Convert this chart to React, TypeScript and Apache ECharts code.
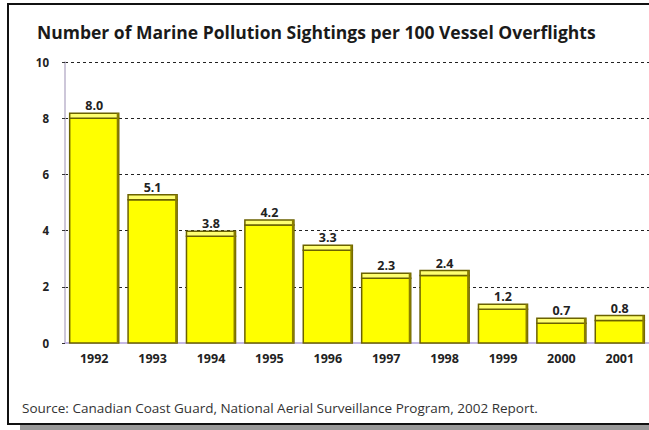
import React, { useEffect, useRef } from "react";
import * as echarts from "echarts";

const years = ["1992", "1993", "1994", "1995", "1996", "1997", "1998", "1999", "2000", "2001"];
const sightings = [8.0, 5.1, 3.8, 4.2, 3.3, 2.3, 2.4, 1.2, 0.7, 0.8];
const yTicks = [0, 2, 4, 6, 8, 10];

const titleText = "Number of Marine Pollution Sightings per 100 Vessel Overflights";
const sourceText = "Source: Canadian Coast Guard, National Aerial Surveillance Program, 2002 Report.";

export default function App() {
  const ref = useRef<HTMLDivElement>(null);
  useEffect(() => {
    if (!ref.current) return;
    const chart = echarts.init(ref.current, null, { renderer: "svg" });
    const option: any = {
      animation: false,
      backgroundColor: "#ffffff",
      title: {
        text: titleText,
        left: 32,
        top: 18,
        textStyle: { fontFamily: "Open Sans", fontWeight: "bold", fontSize: 17.5, color: "#1a1a1a" },
      },
      grid: { left: 65, right: 0, top: 62, bottom: 87, containLabel: false },
      xAxis: {
        type: "category",
        data: years,
        axisLine: { show: true, lineStyle: { color: "#c4b8e4", width: 2 } },
        axisTick: { show: false },
        axisLabel: {
          fontFamily: "Open Sans",
          fontWeight: "bold",
          fontSize: 12.5,
          color: "#222",
          margin: 9,
        },
      },
      yAxis: {
        type: "value",
        min: 0,
        max: 10,
        interval: 2,
        axisLine: { show: true, lineStyle: { color: "#bcb4cc", width: 1.5 } },
        axisTick: { show: true, length: 3, lineStyle: { color: "#333" } },
        axisLabel: {
          fontFamily: "Open Sans",
          fontWeight: "bold",
          fontSize: 11.5,
          color: "#222",
          margin: 16,
          formatter: (v: number) => (yTicks.includes(v) ? String(v) : ""),
        },
        splitLine: { show: true, lineStyle: { color: "#222", type: [3, 3], width: 1 } },
      },
      series: [
        {
          type: "custom",
          z: 5,
          data: sightings.map((v, i) => [i, v]),
          renderItem: (params: any, api: any) => {
            const i = api.value(0);
            const v = api.value(1);
            const top = api.coord([i, v]);
            const base = api.coord([i, 0]);
            const band = api.size([1, 0])[0];
            const w = band * 0.84;
            const x = top[0] - w / 2;
            const h = base[1] - top[1];
            const faceH = 5;
            return {
              type: "group",
              children: [
                {
                  type: "rect",
                  shape: { x, y: top[1], width: w, height: h },
                  style: { fill: "#ffff00", stroke: "#6b6200", lineWidth: 1.5 },
                },
                {
                  type: "rect",
                  shape: { x, y: top[1] - faceH, width: w, height: faceH },
                  style: { fill: "#ffff70", stroke: "#6b6200", lineWidth: 1.5 },
                },
                {
                  type: "line",
                  shape: { x1: x + w - 1, y1: top[1] - faceH, x2: x + w - 1, y2: base[1] },
                  style: { stroke: "#8a7e00", lineWidth: 2 },
                },
                {
                  type: "text",
                  style: {
                    text: v.toFixed(1),
                    x: top[0],
                    y: top[1] - faceH - 1,
                    align: "center",
                    verticalAlign: "bottom",
                    fontFamily: "Open Sans",
                    fontWeight: "bold",
                    fontSize: 12.5,
                    fill: "#222",
                  },
                },
              ],
            };
          },
        },
      ],
      graphic: [
        {
          type: "rect",
          shape: { x: 20, y: 425, width: 640, height: 5 },
          style: { fill: "#999999" },
          silent: true,
        },
        {
          type: "polyline",
          shape: { points: [[660, 4], [8, 4], [8, 424], [660, 424]] },
          style: { stroke: "#111", lineWidth: 2, fill: null },
          silent: true,
        },
        {
          type: "text",
          left: 22,
          top: 401,
          style: {
            text: sourceText,
            fontFamily: "Open Sans",
            fontSize: 13.5,
            fill: "#333",
          },
        },
      ],
    };
    chart.setOption(option);
    return () => chart.dispose();
  }, []);
  return (
    <div
      ref={ref}
      style={{ position: "fixed", left: 0, top: 0, width: 649, height: 430 }}
    />
  );
}
